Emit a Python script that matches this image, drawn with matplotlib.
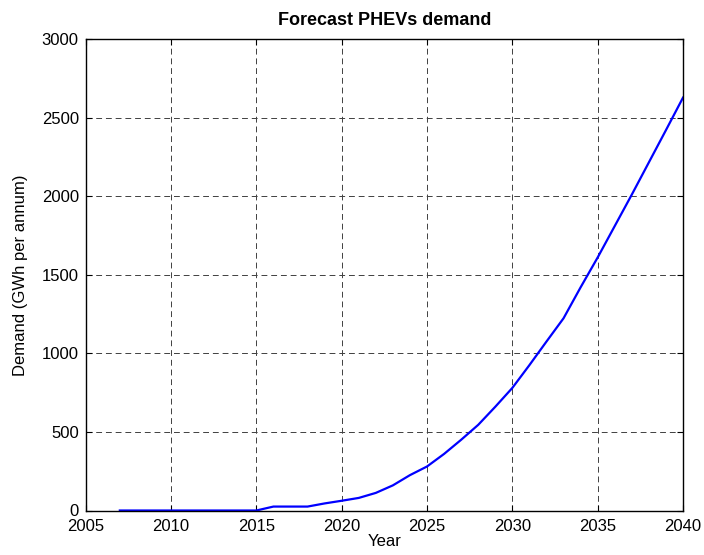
import matplotlib
matplotlib.use("Agg")
import matplotlib.pyplot as plt

plt.rcParams["font.family"] = ["Liberation Sans", "DejaVu Sans"]

# ── Data ─────────────────────────────────────────────────────────────────────
years = list(range(2007, 2041))
demand = [0, 0, 0, 0, 0, 0, 0, 0, 0,          # 2007-2015
          25, 25, 25, 45, 62, 80, 112, 160,   # 2016-2023
          225, 280, 360, 450, 545, 660, 780,  # 2024-2030
          925, 1075, 1223, 1420, 1610,        # 2031-2035
          1810, 2010, 2215, 2420, 2627]       # 2036-2040

x_ticks = list(range(2005, 2041, 5))
y_ticks = list(range(0, 3001, 500))

# ── Plot ─────────────────────────────────────────────────────────────────────
fig = plt.figure(figsize=(7.04, 5.55), dpi=100)
ax = fig.add_axes([85.7 / 704, 44.5 / 555, 597.3 / 704, 471.5 / 555])

ax.plot(years, demand, color="#0000ff", linewidth=1.6)

ax.set_xlim(2005, 2040)
ax.set_ylim(0, 3000)
ax.set_xticks(x_ticks)
ax.set_yticks(y_ticks)
ax.tick_params(direction="in", top=True, right=True, length=4, width=0.8,
               labelsize=12)
ax.tick_params(axis="x", pad=6)
ax.tick_params(axis="y", pad=5)
ax.grid(True, color="#404040", linestyle=(0, (6, 4)), linewidth=0.7)
for sp in ax.spines.values():
    sp.set_linewidth(1.0)

ax.set_title("Forecast PHEVs demand", fontsize=13, fontweight="bold", pad=10)
ax.set_xlabel("Year", fontsize=12, labelpad=0)
ax.set_ylabel("Demand (GWh per annum)", fontsize=12, labelpad=10)

fig.savefig("out.png", dpi=100)
